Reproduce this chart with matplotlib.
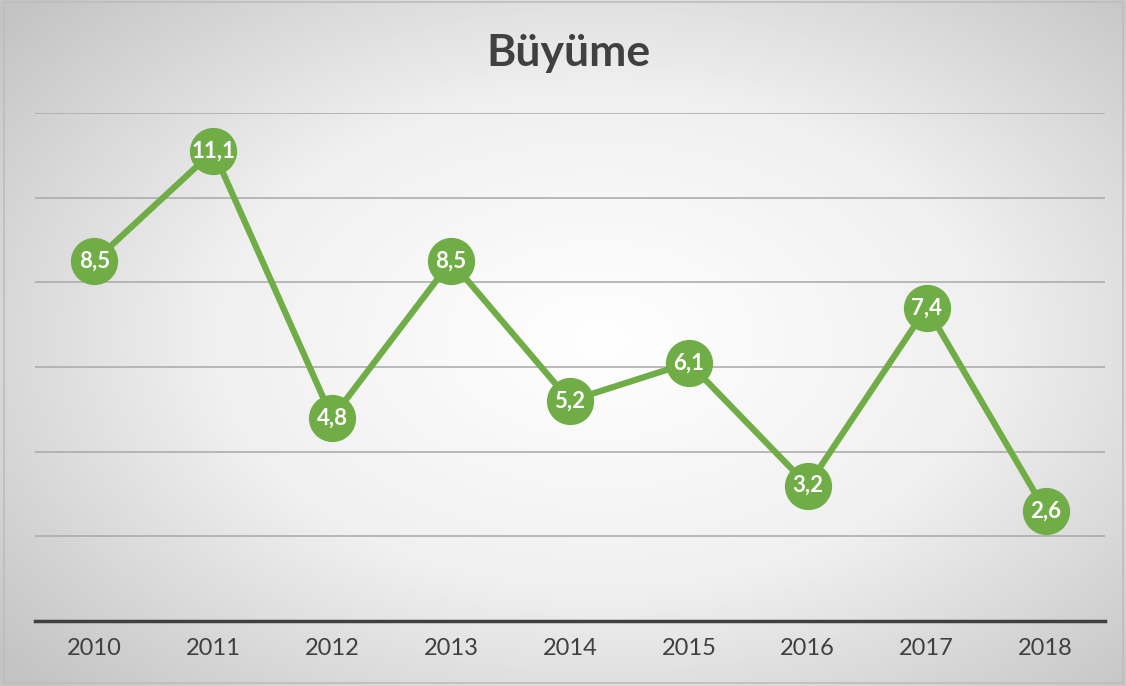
import numpy as np
import matplotlib
matplotlib.use("Agg")
import matplotlib.pyplot as plt
from matplotlib.colors import LinearSegmentedColormap
from matplotlib.patches import Rectangle

years = ["2010", "2011", "2012", "2013", "2014", "2015", "2016", "2017", "2018"]
growth = [8.5, 11.1, 4.8, 8.5, 5.2, 6.1, 3.2, 7.4, 2.6]
title = "Büyüme"

GREEN = "#70ad47"
TEXT = "#404040"
W, H = 1126, 686

fig = plt.figure(figsize=(W / 100, H / 100), dpi=100)

# radial gradient background (Excel-style)
bg = fig.add_axes([0, 0, 1, 1], zorder=0)
yy, xx = np.mgrid[0:H, 0:W]
r = np.hypot((xx - 600) / 620, (yy - 340) / 400)
cmap = LinearSegmentedColormap.from_list("bg", ["#ffffff", "#f0f0f0", "#c4c4c4"])
bg.imshow(np.clip(r, 0, 1.25) / 1.25, cmap=cmap, vmin=0, vmax=1, aspect="auto",
          extent=[0, W, H, 0])
bg.set_xlim(0, W); bg.set_ylim(H, 0); bg.axis("off")
bg.add_patch(Rectangle((4, 2), W - 7, H - 5, fill=False, edgecolor="#bdbdbd", lw=1.2))

ax = fig.add_axes([35 / W, 1 - 621 / H, (1105 - 35) / W, (621 - 113) / H], zorder=1)
ax.patch.set_alpha(0)
x = np.arange(len(years))
ax.plot(x, growth, color=GREEN, lw=4.5, marker="o", ms=33, mfc=GREEN, mec=GREEN,
        clip_on=False, zorder=3)
for xi, v in zip(x, growth):
    ax.text(xi, v, f"{v:.1f}".replace(".", ","), color="white", fontsize=16,
            fontweight="bold", family="Lato", ha="center", va="center", zorder=4)

ax.set_xlim(-0.5, len(years) - 0.5)
ax.set_ylim(0, 12)
ax.set_yticks(np.arange(2, 13, 2))
ax.yaxis.grid(True, color="#a8a8a8", lw=1.1)
ax.set_axisbelow(True)
ax.tick_params(axis="y", left=False, labelleft=False)
ax.tick_params(axis="x", length=0, pad=12, labelsize=17, labelcolor=TEXT)
ax.set_xticks(x)
ax.set_xticklabels(years, family="Lato")
for s in ["top", "right", "left"]:
    ax.spines[s].set_visible(False)
ax.spines["bottom"].set_color(TEXT)
ax.spines["bottom"].set_linewidth(2.5)

fig.text(568 / W, 1 - 53 / H, title, fontsize=32, fontweight="bold", family="Lato",
         color=TEXT, ha="center", va="center")

fig.savefig("out.png", dpi=100)
